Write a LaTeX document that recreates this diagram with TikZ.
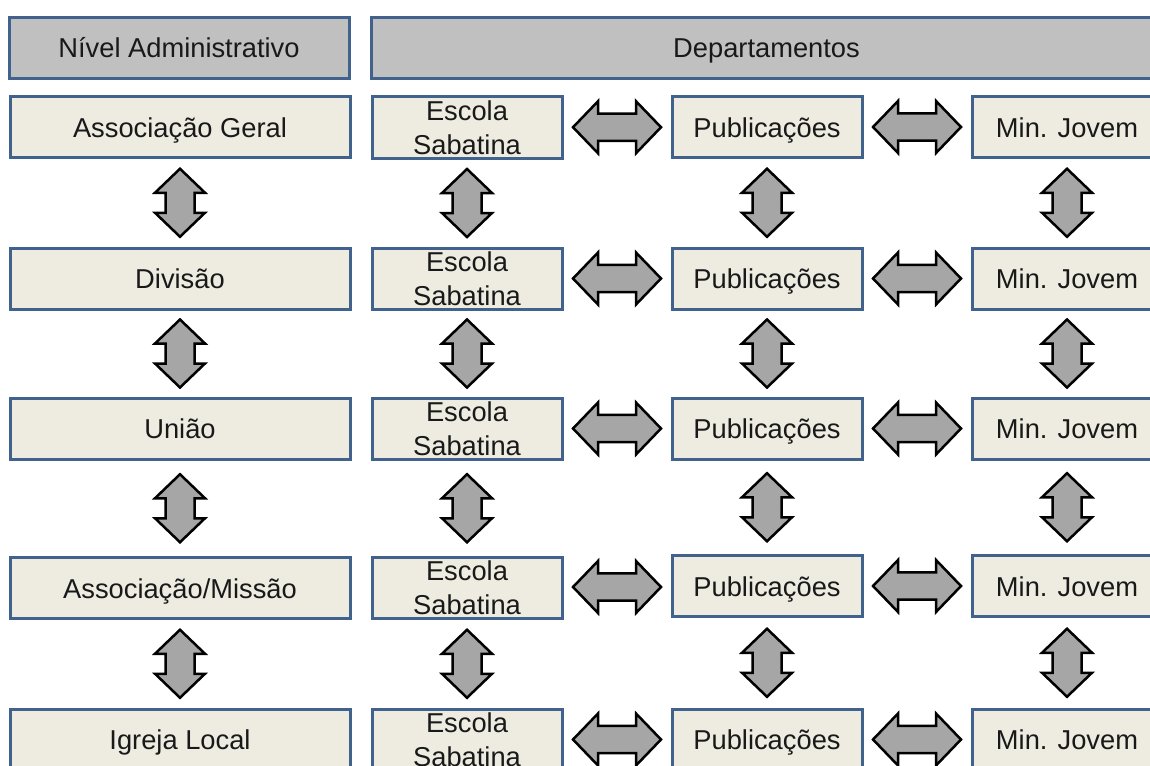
\documentclass[tikz,border=0pt]{standalone}
\usepackage{fontspec}
\setmainfont{Liberation Sans}
\usetikzlibrary{calc}
\definecolor{boxfill}{RGB}{238,236,225}
\definecolor{headfill}{RGB}{192,192,192}
\definecolor{boxline}{RGB}{65,98,140}
\definecolor{arrfill}{RGB}{166,166,166}
\definecolor{txt}{RGB}{25,25,25}
\begin{document}
\begin{tikzpicture}[x=1pt,y=-1pt,
 base/.style={draw=boxline, line width=3pt, inner sep=0pt, minimum height=61pt, text=txt, font=\fontsize{27.3}{34}\selectfont},
 one/.style={text height=20pt, text depth=0pt},
 levelbox/.style={base, one, fill=boxfill, minimum width=340pt},
 deptbox/.style={base, one, fill=boxfill, minimum width=190pt},
 twobox/.style={base, align=center, fill=boxfill, minimum width=190pt},
 headbox/.style={base, one, fill=headfill},
 arrowshape/.style={draw=black, fill=arrfill, line width=2.5pt, line join=miter},
 vdarrow/.pic={\path[arrowshape] (0,-34) -- (25,-10) -- (14.5,-10) -- (14.5,10) -- (25,10) -- (0,34) -- (-25,10) -- (-14.5,10) -- (-14.5,-10) -- (-25,-10) -- cycle;},
 hdarrow/.pic={\path[arrowshape] (-44,0) -- (-19,-26) -- (-19,-13.7) -- (19,-13.7) -- (19,-26) -- (44,0) -- (19,26) -- (19,13.7) -- (-19,13.7) -- (-19,26) -- cycle;}
]
\useasboundingbox (0,0) rectangle (1150,765);
\clip (0,0) rectangle (1150,765);
\fill[white] (0,0) rectangle (1150,765);

% headers
\node[headbox, minimum width=340pt] (hN) at (179,48) {Nível Administrativo};
\node[headbox, minimum width=791pt] (hD) at (766.5,48) {Departamentos};

% row 1
\node[levelbox] (L1) at (180,127) {Associação Geral};
\node[twobox] (E1) at (467,127.5) {Escola\\Sabatina};
\node[deptbox] (P1) at (767,127) {Publicações};
\node[deptbox] (M1) at (1067,127) {Min. Jovem};
% row 2
\node[levelbox] (L2) at (180,278.5) {Divisão};
\node[twobox] (E2) at (467,278.5) {Escola\\Sabatina};
\node[deptbox] (P2) at (767,278.5) {Publicações};
\node[deptbox] (M2) at (1067,278.5) {Min. Jovem};
% row 3
\node[levelbox] (L3) at (180,428.5) {União};
\node[twobox] (E3) at (467,428.5) {Escola\\Sabatina};
\node[deptbox] (P3) at (767,428.5) {Publicações};
\node[deptbox] (M3) at (1067,428.5) {Min. Jovem};
% row 4
\node[levelbox] (L4) at (180,588) {Associação/Missão};
\node[twobox] (E4) at (467,588) {Escola\\Sabatina};
\node[deptbox] (P4) at (767,586) {Publicações};
\node[deptbox] (M4) at (1067,586) {Min. Jovem};
% row 5
\node[levelbox] (L5) at (180,739.5) {Igreja Local};
\node[twobox] (E5) at (467,739.5) {Escola\\Sabatina};
\node[deptbox] (P5) at (767,739.5) {Publicações};
\node[deptbox] (M5) at (1067,739.5) {Min. Jovem};

% vertical arrows
\foreach \c in {L,E,P,M}{
  \path ($(\c1.south)!0.5!(\c2.north)$) pic {vdarrow};
  \path ($(\c2.south)!0.5!(\c3.north)$) pic {vdarrow};
  \path ($(\c3.south)!0.5!(\c4.north)$) pic {vdarrow};
  \path ($(\c4.south)!0.5!(\c5.north)$) pic {vdarrow};
}
% horizontal arrows
\foreach \r in {1,...,5}{
  \path ($(E\r.east)!0.5!(P\r.west)$) pic {hdarrow};
  \path ($(P\r.east)!0.5!(M\r.west)$) pic {hdarrow};
}
\end{tikzpicture}
\end{document}
